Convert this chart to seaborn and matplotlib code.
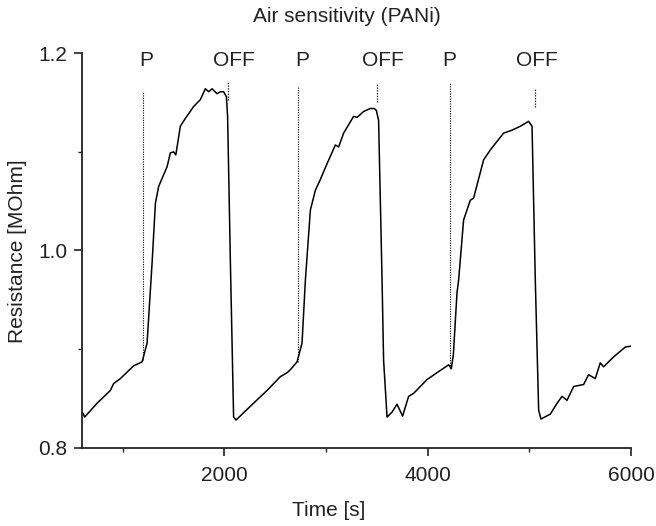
import numpy as np
import pandas as pd
import matplotlib
matplotlib.use("Agg")
import matplotlib.pyplot as plt
import seaborn as sns
from matplotlib.ticker import MultipleLocator

# resistance trace
time_s = [610, 626, 748, 879, 911, 977, 1108, 1191, 1240, 1289, 1322, 1354,
          1437, 1469, 1501, 1523, 1567, 1617, 1698, 1764, 1813, 1846, 1879,
          1928, 1961, 1993, 2020, 2032, 2059, 2091, 2115, 2256, 2420, 2551,
          2617, 2649, 2715, 2764, 2797, 2846, 2895, 2944, 3010, 3092, 3124,
          3173, 3271, 3305, 3370, 3436, 3475, 3495, 3517, 3551, 3566, 3600,
          3649, 3698, 3753, 3812, 3861, 3993, 4091, 4206, 4232, 4252, 4288,
          4304, 4353, 4419, 4451, 4550, 4616, 4746, 4829, 4911, 4992, 5026,
          5058, 5091, 5114, 5206, 5272, 5321, 5370, 5435, 5533, 5582, 5648,
          5697, 5730, 5828, 5943, 6000]
resistance = [0.835, 0.831, 0.845, 0.858, 0.865, 0.870, 0.883, 0.887, 0.906,
              0.987, 1.048, 1.065, 1.085, 1.099, 1.100, 1.097, 1.126, 1.134,
              1.146, 1.153, 1.164, 1.161, 1.164, 1.159, 1.161, 1.161, 1.156,
              1.136, 0.990, 0.831, 0.828, 0.842, 0.858, 0.872, 0.876, 0.879,
              0.887, 0.906, 0.970, 1.041, 1.061, 1.072, 1.088, 1.107, 1.105,
              1.119, 1.136, 1.135, 1.141, 1.144, 1.144, 1.142, 1.132, 0.970,
              0.889, 0.831, 0.836, 0.844, 0.832, 0.852, 0.855, 0.869, 0.876,
              0.884, 0.880, 0.894, 0.957, 0.970, 1.031, 1.051, 1.053, 1.092,
              1.102, 1.119, 1.122, 1.126, 1.131, 1.126, 0.970, 0.838, 0.829,
              0.834, 0.845, 0.852, 0.848, 0.862, 0.864, 0.874, 0.870, 0.886,
              0.882, 0.892, 0.902, 0.903]

# event markers
p_times = [1197, 2721, 4222]
p_top = [1.161, 1.166, 1.170]
p_bottom = [0.889, 0.887, 0.881]
off_times = [2036, 3504, 5058]
off_top = [1.172, 1.170, 1.165]
off_bottom = [1.153, 1.151, 1.146]
label_text = ["P", "OFF", "P", "OFF", "P", "OFF"]
label_x = [1230, 2098, 2764, 3561, 4215, 5075]

df = pd.DataFrame({"time": time_s, "resistance": resistance})

sns.set_style("ticks")
plt.rcParams["font.family"] = ["Liberation Sans", "DejaVu Sans"]

fig = plt.figure(figsize=(6.56, 5.26), dpi=100)
ax = fig.add_axes([0.125, 0.149, 0.837, 0.7497])

sns.lineplot(data=df, x="time", y="resistance", color="black", lw=1.1,
             estimator=None, ax=ax)
ax.vlines(p_times, p_bottom, p_top, colors="black", linestyles=(0, (1, 1.2)), lw=0.8)
ax.vlines(off_times, off_bottom, off_top, colors="black", linestyles=(0, (1, 1.2)), lw=0.9)
for t, x in zip(label_text, label_x):
    ax.text(x, 1.1925, t, ha="center", va="center", fontsize=15, color="#222222")

ax.set_xlim(600, 6000)
ax.set_ylim(0.8, 1.2)
ax.set_xticks([2000, 4000, 6000])
ax.xaxis.set_minor_locator(MultipleLocator(1000))
ax.set_yticks([0.8, 1.0, 1.2])
ax.yaxis.set_minor_locator(MultipleLocator(0.1))
ax.set_yticklabels(["0.8", "1.0", "1.2"])

for s in ["top", "right"]:
    ax.spines[s].set_visible(False)
for s in ["left", "bottom"]:
    ax.spines[s].set_linewidth(1.3)
    ax.spines[s].set_color("#222222")
ax.tick_params(which="major", length=5.8, width=1.2, labelsize=15, pad=4.5,
               colors="#222222")
ax.tick_params(axis="x", which="major", pad=7.5)
ax.tick_params(which="minor", length=3, width=1.0, colors="#222222")

ax.set_xlabel("")
ax.set_ylabel("")
fig.text(347 / 656, 1 - 17 / 526, "Air sensitivity (PANi)", ha="center", va="center",
         fontsize=15, color="#222222")
fig.text(329 / 656, 1 - 511 / 526, "Time [s]", ha="center", va="center",
         fontsize=15, color="#222222")
fig.text(18 / 656, 1 - 251 / 526, "Resistance [MOhm]", ha="center", va="center",
         rotation=90, fontsize=15, color="#222222")

fig.savefig("out.png", dpi=100)
